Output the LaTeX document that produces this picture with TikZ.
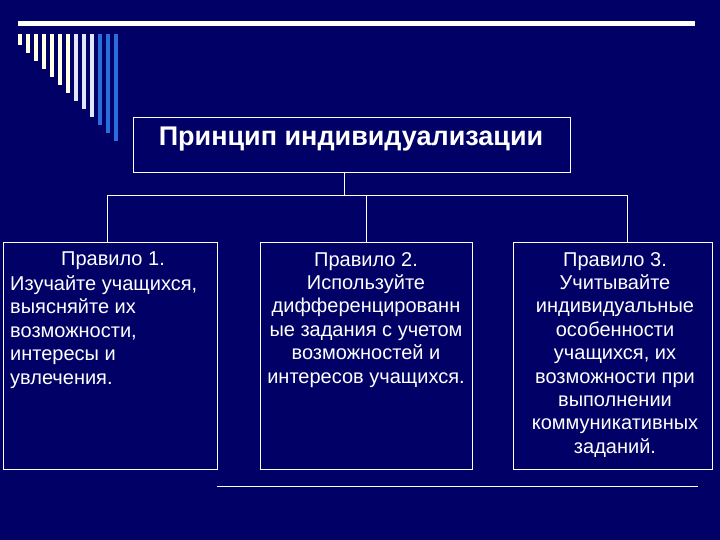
\documentclass[tikz,border=0pt]{standalone}
\usepackage{fontspec}
\setmainfont{Liberation Sans}
\definecolor{bgnavy}{RGB}{0,0,102}
\definecolor{barY}{RGB}{255,255,225}
\definecolor{barL}{RGB}{225,230,250}
\definecolor{barB}{RGB}{40,110,220}
\begin{document}
\begin{tikzpicture}[x=1pt,y=-1pt,
  box/.style={draw=white,line width=0.8pt,fill=none},
  txt/.style={text=white,align=center,inner sep=0pt,font=\fontsize{20}{23.4}\selectfont},
  conn/.style={draw=white,line width=0.8pt}]
\fill[bgnavy] (0,0) rectangle (720,540);
\useasboundingbox (0,0) rectangle (720,540);
\fill[white] (18,21) rectangle (695,26);
\foreach \i/\cc in {0/barY,1/barY,2/barY,3/barY,4/barY,5/barY,6/barY,7/barL,8/barL,9/barL,10/barB,11/barB,12/barB}{
  \fill[\cc] ({18+8*\i},34) rectangle ({22+8*\i},{45+8*\i});
}
\draw[box] (133,117) rectangle (570,172);
\node[txt,font=\bfseries\fontsize{27}{30}\selectfont] (t) at (351,139) {Принцип индивидуализации};
\coordinate (tb) at (344,172);
\coordinate (j) at (344,195);
\coordinate (l) at (107,195);
\coordinate (r) at (627,195);
\draw[box] (3,242) rectangle (217,469);
\draw[box] (260,242) rectangle (472,469);
\draw[box] (513,242) rectangle (712,469);
\coordinate (b1) at (107,242);
\coordinate (b2) at (366,242);
\coordinate (b3) at (627,242);
\draw[conn] (tb) -- (j);
\draw[conn] (l) -- (r);
\draw[conn] (l) -- (b1);
\draw[conn] (j -| b2) -- (b2);
\draw[conn] (r) -- (b3);
\node[txt,anchor=north] (r1h) at (113,252) {Правило 1.};
\node[txt,anchor=north west,align=left] (r1) at (10,275.4) {Изучайте учащихся,\\выясняйте их\\возможности,\\интересы и\\увлечения.};
\node[txt,anchor=north] (r2) at (366,252) {Правило 2.\\Используйте\\дифференцированн\\ые задания с учетом\\возможностей и\\интересов учащихся.};
\node[txt,anchor=north] (r3) at (615,252) {Правило 3.\\Учитывайте\\индивидуальные\\особенности\\учащихся, их\\возможности при\\выполнении\\коммуникативных\\заданий.};
\coordinate (h1) at (217,486);
\coordinate (h2) at (698,486);
\draw[white,line width=0.6pt] (h1) -- (h2);
\end{tikzpicture}
\end{document}
